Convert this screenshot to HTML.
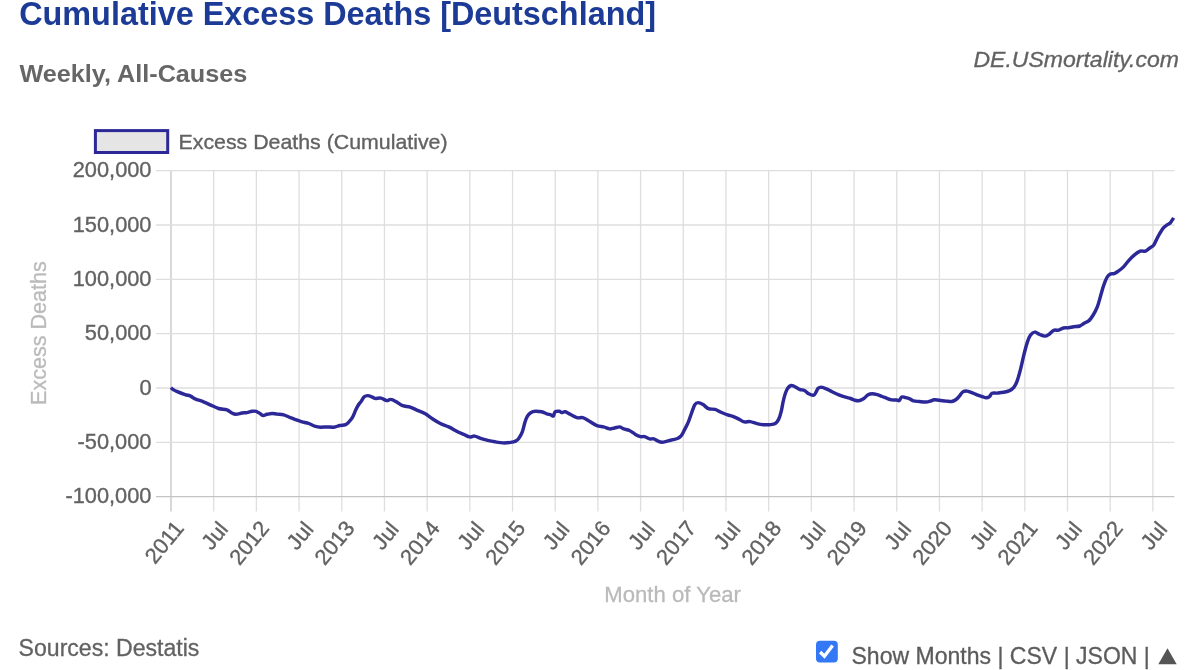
<!DOCTYPE html><html><head><meta charset="utf-8"><title>Cumulative Excess Deaths [Deutschland]</title>
<style>html,body{margin:0;padding:0;background:#fff;}body{width:1200px;height:670px;overflow:hidden;position:relative;font-family:"Liberation Sans",sans-serif;}
svg{position:absolute;left:0;top:0;will-change:transform;}svg text{font-family:"Liberation Sans",sans-serif;}
</style></head><body>
<svg width="1200" height="670" viewBox="0 0 1200 670">
<g stroke="#dedede" stroke-width="1.3" fill="none">
<line x1="171.00" y1="170.65" x2="171.00" y2="511.39" stroke="#c4c4c4"/>
<line x1="213.69" y1="170.65" x2="213.69" y2="511.39" stroke="#dedede"/>
<line x1="256.38" y1="170.65" x2="256.38" y2="511.39" stroke="#dedede"/>
<line x1="299.07" y1="170.65" x2="299.07" y2="511.39" stroke="#dedede"/>
<line x1="341.76" y1="170.65" x2="341.76" y2="511.39" stroke="#dedede"/>
<line x1="384.45" y1="170.65" x2="384.45" y2="511.39" stroke="#dedede"/>
<line x1="427.14" y1="170.65" x2="427.14" y2="511.39" stroke="#dedede"/>
<line x1="469.83" y1="170.65" x2="469.83" y2="511.39" stroke="#dedede"/>
<line x1="512.52" y1="170.65" x2="512.52" y2="511.39" stroke="#dedede"/>
<line x1="555.21" y1="170.65" x2="555.21" y2="511.39" stroke="#dedede"/>
<line x1="597.90" y1="170.65" x2="597.90" y2="511.39" stroke="#dedede"/>
<line x1="640.59" y1="170.65" x2="640.59" y2="511.39" stroke="#dedede"/>
<line x1="683.28" y1="170.65" x2="683.28" y2="511.39" stroke="#dedede"/>
<line x1="725.97" y1="170.65" x2="725.97" y2="511.39" stroke="#dedede"/>
<line x1="768.66" y1="170.65" x2="768.66" y2="511.39" stroke="#dedede"/>
<line x1="811.35" y1="170.65" x2="811.35" y2="511.39" stroke="#dedede"/>
<line x1="854.04" y1="170.65" x2="854.04" y2="511.39" stroke="#dedede"/>
<line x1="896.73" y1="170.65" x2="896.73" y2="511.39" stroke="#dedede"/>
<line x1="939.42" y1="170.65" x2="939.42" y2="511.39" stroke="#dedede"/>
<line x1="982.11" y1="170.65" x2="982.11" y2="511.39" stroke="#dedede"/>
<line x1="1024.80" y1="170.65" x2="1024.80" y2="511.39" stroke="#dedede"/>
<line x1="1067.49" y1="170.65" x2="1067.49" y2="511.39" stroke="#dedede"/>
<line x1="1110.18" y1="170.65" x2="1110.18" y2="511.39" stroke="#dedede"/>
<line x1="1152.87" y1="170.65" x2="1152.87" y2="511.39" stroke="#dedede"/>
<line x1="156.00" y1="170.65" x2="1174.40" y2="170.65" stroke="#dedede"/>
<line x1="156.00" y1="224.99" x2="1174.40" y2="224.99" stroke="#dedede"/>
<line x1="156.00" y1="279.33" x2="1174.40" y2="279.33" stroke="#dedede"/>
<line x1="156.00" y1="333.67" x2="1174.40" y2="333.67" stroke="#dedede"/>
<line x1="156.00" y1="388.01" x2="1174.40" y2="388.01" stroke="#dedede"/>
<line x1="156.00" y1="442.35" x2="1174.40" y2="442.35" stroke="#dedede"/>
<line x1="156.00" y1="496.69" x2="1174.40" y2="496.69" stroke="#c4c4c4"/>
</g>
<path d="M170.9,387.6 C171.3,388.0 172.5,389.2 173.5,389.8 C174.5,390.4 174.8,390.6 176.7,391.4 C178.6,392.2 182.9,393.9 185.1,394.6 C187.3,395.4 188.4,395.2 190.1,395.9 C191.8,396.6 192.9,397.9 195.1,398.9 C197.3,399.9 201.0,400.8 203.5,401.8 C206.0,402.8 207.7,403.7 210.2,404.8 C212.7,405.9 215.7,407.7 218.5,408.5 C221.3,409.3 224.7,409.1 226.9,409.8 C229.1,410.6 230.4,412.2 231.9,413.0 C233.4,413.8 234.4,414.3 236.1,414.3 C237.8,414.3 240.1,413.3 241.9,413.0 C243.7,412.7 245.3,412.9 247.0,412.6 C248.7,412.3 250.5,411.5 252.0,411.3 C253.5,411.1 254.8,410.9 256.2,411.3 C257.6,411.7 259.1,413.1 260.3,413.8 C261.5,414.5 262.1,415.4 263.2,415.5 C264.3,415.6 265.5,414.6 267.0,414.3 C268.5,414.0 270.3,413.5 272.0,413.5 C273.7,413.5 275.2,413.9 277.1,414.1 C279.1,414.3 281.5,414.2 283.7,414.8 C285.9,415.4 288.2,416.8 290.4,417.7 C292.6,418.6 295.2,419.5 297.1,420.2 C299.1,420.9 300.2,421.2 302.1,421.8 C304.1,422.4 306.6,422.7 308.8,423.5 C311.0,424.3 313.6,425.8 315.5,426.4 C317.4,427.0 318.6,427.1 320.5,427.2 C322.4,427.3 325.0,426.9 327.2,426.9 C329.4,426.9 331.8,427.4 333.9,427.2 C336.0,427.0 337.9,425.9 339.8,425.5 C341.8,425.1 344.1,425.3 345.6,424.7 C347.1,424.1 347.9,423.0 349.0,421.8 C350.1,420.6 351.2,419.6 352.3,417.7 C353.4,415.8 354.7,412.2 355.7,410.1 C356.7,408.0 357.6,406.2 358.5,404.8 C359.4,403.4 359.9,403.1 360.9,401.8 C361.8,400.5 363.1,397.8 364.2,396.8 C365.3,395.8 366.3,395.6 367.6,395.6 C368.9,395.6 370.6,396.3 371.8,396.8 C373.1,397.3 373.6,398.2 375.1,398.4 C376.6,398.6 379.1,397.7 381.0,398.1 C382.9,398.5 385.1,400.4 386.8,400.6 C388.5,400.8 389.3,399.1 391.0,399.4 C392.7,399.6 394.9,401.1 396.9,402.1 C398.8,403.1 400.5,404.8 402.7,405.6 C404.9,406.4 407.8,406.4 410.2,407.1 C412.6,407.9 414.4,409.0 416.9,410.1 C419.4,411.2 422.8,412.4 425.3,413.8 C427.8,415.2 429.5,416.9 432.0,418.5 C434.5,420.1 437.5,422.1 440.3,423.5 C443.1,424.9 445.9,425.6 448.7,426.9 C451.5,428.2 454.6,430.2 457.1,431.5 C459.6,432.8 461.6,433.5 463.7,434.4 C465.8,435.3 467.8,436.6 469.6,436.9 C471.4,437.2 472.7,435.8 474.6,436.1 C476.6,436.4 478.9,437.9 481.3,438.6 C483.7,439.4 486.4,440.1 488.8,440.6 C491.2,441.2 493.1,441.5 495.5,441.9 C497.9,442.3 500.5,442.8 503.0,442.9 C505.5,443.0 508.5,442.7 510.6,442.4 C512.7,442.1 514.2,441.8 515.6,441.1 C517.0,440.4 517.8,439.7 518.9,438.2 C520.0,436.7 521.3,434.5 522.3,431.9 C523.3,429.3 524.0,425.3 524.8,422.7 C525.6,420.1 526.3,418.1 527.3,416.4 C528.3,414.7 529.3,413.6 530.7,412.7 C532.1,411.8 533.7,411.3 535.5,411.2 C537.3,411.1 539.8,411.4 541.7,411.8 C543.6,412.2 545.3,413.3 546.8,413.8 C548.3,414.3 549.8,414.4 550.9,414.8 C552.0,415.2 552.7,416.5 553.4,416.0 C554.1,415.5 554.1,412.6 555.1,411.8 C556.1,411.0 558.2,411.2 559.3,411.3 C560.4,411.4 560.8,412.5 561.8,412.6 C562.8,412.7 563.8,411.5 565.2,411.8 C566.6,412.1 568.2,413.3 570.2,414.3 C572.2,415.3 574.8,417.1 576.9,417.7 C579.0,418.3 580.8,417.2 582.7,417.7 C584.7,418.2 586.2,419.4 588.6,420.7 C591.0,422.0 594.4,424.7 596.9,425.7 C599.4,426.7 601.5,426.4 603.6,426.9 C605.7,427.4 607.7,428.7 609.5,428.9 C611.3,429.1 612.8,428.3 614.5,428.0 C616.2,427.7 618.0,426.8 619.5,426.9 C621.0,427.0 622.0,428.3 623.7,428.9 C625.4,429.5 627.5,429.6 629.5,430.5 C631.5,431.4 633.6,433.4 635.4,434.4 C637.2,435.4 638.9,436.2 640.4,436.6 C641.9,437.0 643.1,436.2 644.6,436.6 C646.1,437.0 648.1,438.5 649.6,438.9 C651.1,439.3 652.4,438.5 653.8,438.9 C655.2,439.3 656.6,440.6 658.0,441.1 C659.4,441.7 660.6,442.2 662.1,442.2 C663.6,442.2 665.4,441.5 667.2,441.1 C669.0,440.7 671.2,440.2 673.0,439.7 C674.8,439.2 676.6,438.9 678.0,438.2 C679.4,437.5 680.3,437.1 681.4,435.6 C682.5,434.1 683.6,431.5 684.7,429.4 C685.8,427.2 687.0,425.3 688.1,422.7 C689.2,420.1 690.3,416.5 691.4,413.5 C692.5,410.5 693.6,406.6 694.7,404.8 C695.8,403.0 696.7,402.6 698.1,402.6 C699.5,402.6 701.4,403.6 703.1,404.6 C704.8,405.6 706.4,407.9 708.4,408.7 C710.4,409.5 713.0,408.8 715.1,409.4 C717.2,410.0 718.8,411.3 720.9,412.2 C723.0,413.1 725.5,414.2 727.6,414.9 C729.7,415.6 731.5,415.9 733.4,416.6 C735.3,417.4 737.5,418.5 739.3,419.4 C741.1,420.3 742.5,421.5 744.3,421.9 C746.1,422.3 748.1,421.3 750.2,421.6 C752.3,421.9 754.7,423.1 756.9,423.6 C759.1,424.1 761.4,424.5 763.5,424.7 C765.6,424.9 767.4,424.9 769.4,424.7 C771.4,424.5 773.8,424.5 775.3,423.6 C776.8,422.7 777.6,421.3 778.6,419.4 C779.6,417.4 780.4,414.8 781.1,411.9 C781.9,409.0 782.4,404.9 783.1,401.8 C783.8,398.7 784.5,395.8 785.3,393.5 C786.1,391.2 786.8,389.4 787.8,388.1 C788.8,386.8 790.0,385.8 791.1,385.5 C792.2,385.2 793.1,385.9 794.5,386.5 C795.9,387.1 797.8,388.6 799.5,389.3 C801.2,390.0 803.0,389.8 804.5,390.5 C806.0,391.2 807.2,393.0 808.7,393.8 C810.2,394.6 812.5,395.5 813.7,395.2 C815.0,394.9 815.5,392.9 816.2,391.8 C816.9,390.7 817.1,389.3 817.9,388.5 C818.7,387.7 819.8,387.1 821.2,387.1 C822.6,387.2 824.5,388.0 826.3,388.8 C828.1,389.6 830.0,390.8 832.1,391.8 C834.2,392.8 836.6,393.9 838.8,394.8 C841.0,395.7 843.5,396.6 845.5,397.2 C847.5,397.8 849.0,398.0 850.5,398.5 C852.0,399.0 853.3,399.8 854.7,400.2 C856.1,400.6 857.4,401.0 858.9,400.7 C860.4,400.4 862.4,399.5 863.9,398.5 C865.4,397.5 866.7,395.6 868.1,394.8 C869.5,394.0 870.7,393.8 872.2,393.8 C873.7,393.8 875.6,394.2 877.3,394.6 C879.0,395.1 880.7,395.9 882.3,396.5 C883.9,397.1 885.4,397.8 887.0,398.4 C888.6,399.0 890.1,399.6 891.7,399.9 C893.3,400.2 895.5,399.9 896.7,400.0 C898.0,400.1 898.4,401.1 899.2,400.6 C900.0,400.1 900.7,397.5 901.7,397.0 C902.7,396.5 903.8,397.2 905.1,397.5 C906.4,397.8 907.9,398.1 909.3,398.6 C910.7,399.2 911.7,400.3 913.4,400.8 C915.1,401.3 917.2,401.3 919.3,401.5 C921.4,401.7 924.2,402.1 926.0,402.0 C927.8,401.9 928.8,401.5 930.2,401.1 C931.6,400.7 932.8,399.9 934.3,399.8 C935.8,399.7 937.4,400.1 939.4,400.3 C941.4,400.5 944.0,400.9 946.1,401.1 C948.2,401.3 950.2,401.8 951.9,401.5 C953.6,401.2 954.9,400.4 956.1,399.5 C957.4,398.6 958.3,397.4 959.4,396.1 C960.5,394.8 961.5,392.7 962.8,391.9 C964.1,391.1 965.6,391.0 967.0,391.1 C968.4,391.2 969.4,391.8 971.1,392.4 C972.8,393.0 975.2,394.1 977.0,394.8 C978.8,395.5 980.5,396.0 982.0,396.5 C983.5,397.0 985.0,397.8 986.2,397.8 C987.5,397.8 988.5,397.4 989.5,396.6 C990.5,395.9 990.7,393.9 992.0,393.3 C993.3,392.7 995.1,393.3 997.1,393.1 C999.1,392.9 1001.6,392.7 1003.7,392.3 C1005.8,391.9 1007.9,391.4 1009.6,390.6 C1011.3,389.8 1012.5,389.0 1013.8,387.4 C1015.0,385.8 1016.0,384.1 1017.1,381.1 C1018.2,378.1 1019.4,373.7 1020.5,369.4 C1021.6,365.1 1022.7,359.7 1023.8,355.2 C1024.9,350.7 1026.1,346.0 1027.2,342.6 C1028.3,339.2 1029.2,336.9 1030.5,335.1 C1031.8,333.4 1033.2,332.2 1034.7,332.1 C1036.2,332.0 1038.1,333.8 1039.8,334.5 C1041.5,335.2 1043.4,336.2 1044.9,336.1 C1046.5,336.1 1047.6,335.2 1049.1,334.2 C1050.6,333.2 1052.1,331.0 1053.7,330.3 C1055.3,329.6 1057.2,330.6 1058.8,330.2 C1060.4,329.8 1061.8,328.4 1063.4,328.0 C1065.0,327.6 1066.8,328.0 1068.5,327.8 C1070.2,327.6 1071.7,327.1 1073.6,326.8 C1075.5,326.5 1078.1,326.6 1079.8,326.0 C1081.5,325.4 1082.3,324.3 1083.8,323.4 C1085.3,322.5 1087.4,322.0 1089.0,320.6 C1090.6,319.2 1091.8,317.3 1093.2,315.0 C1094.6,312.7 1096.2,309.7 1097.4,306.6 C1098.6,303.5 1099.5,299.7 1100.5,296.2 C1101.5,292.7 1102.5,288.8 1103.6,285.7 C1104.6,282.6 1105.8,279.7 1106.8,277.8 C1107.8,275.9 1108.7,274.9 1109.9,274.2 C1111.1,273.5 1112.7,274.1 1114.1,273.6 C1115.5,273.1 1116.7,272.2 1118.3,271.1 C1119.9,270.0 1121.8,268.6 1123.5,266.9 C1125.2,265.1 1127.0,262.5 1128.7,260.6 C1130.4,258.7 1132.0,257.0 1133.9,255.4 C1135.8,253.8 1138.3,251.9 1140.2,251.2 C1142.1,250.5 1143.8,251.7 1145.4,251.2 C1147.0,250.7 1148.2,249.1 1149.6,248.1 C1151.0,247.1 1152.4,246.8 1153.8,244.9 C1155.2,243.0 1156.4,239.4 1158.0,236.6 C1159.6,233.8 1161.6,230.2 1163.2,228.2 C1164.8,226.2 1166.2,225.6 1167.4,224.7 C1168.6,223.8 1169.5,223.8 1170.5,222.6 C1171.5,221.4 1173.2,218.6 1173.7,217.8" fill="none" stroke="#2c2897" stroke-width="3.45" stroke-linejoin="round" stroke-linecap="butt"/>
<g fill="#626262" stroke="#626262" stroke-width="0.35">
<text transform="translate(151.50,177.40)" font-size="21.8" text-anchor="end" >200,000</text>
<text transform="translate(151.50,231.74)" font-size="21.8" text-anchor="end" >150,000</text>
<text transform="translate(151.50,286.08)" font-size="21.8" text-anchor="end" >100,000</text>
<text transform="translate(151.50,340.42)" font-size="21.8" text-anchor="end" >50,000</text>
<text transform="translate(151.50,394.76)" font-size="21.8" text-anchor="end" >0</text>
<text transform="translate(151.50,449.10)" font-size="21.8" text-anchor="end" >-50,000</text>
<text transform="translate(151.50,503.44)" font-size="21.8" text-anchor="end" >-100,000</text>
<text transform="translate(179.00,523.89) rotate(-50.5)" font-size="21.8" text-anchor="end" dy="0.35em">2011</text>
<text transform="translate(223.29,524.79) rotate(-50.5)" font-size="21.8" text-anchor="end" dy="0.35em">Jul</text>
<text transform="translate(264.38,523.89) rotate(-50.5)" font-size="21.8" text-anchor="end" dy="0.35em">2012</text>
<text transform="translate(308.67,524.79) rotate(-50.5)" font-size="21.8" text-anchor="end" dy="0.35em">Jul</text>
<text transform="translate(349.76,523.89) rotate(-50.5)" font-size="21.8" text-anchor="end" dy="0.35em">2013</text>
<text transform="translate(394.05,524.79) rotate(-50.5)" font-size="21.8" text-anchor="end" dy="0.35em">Jul</text>
<text transform="translate(435.14,523.89) rotate(-50.5)" font-size="21.8" text-anchor="end" dy="0.35em">2014</text>
<text transform="translate(479.43,524.79) rotate(-50.5)" font-size="21.8" text-anchor="end" dy="0.35em">Jul</text>
<text transform="translate(520.52,523.89) rotate(-50.5)" font-size="21.8" text-anchor="end" dy="0.35em">2015</text>
<text transform="translate(564.81,524.79) rotate(-50.5)" font-size="21.8" text-anchor="end" dy="0.35em">Jul</text>
<text transform="translate(605.90,523.89) rotate(-50.5)" font-size="21.8" text-anchor="end" dy="0.35em">2016</text>
<text transform="translate(650.19,524.79) rotate(-50.5)" font-size="21.8" text-anchor="end" dy="0.35em">Jul</text>
<text transform="translate(691.28,523.89) rotate(-50.5)" font-size="21.8" text-anchor="end" dy="0.35em">2017</text>
<text transform="translate(735.57,524.79) rotate(-50.5)" font-size="21.8" text-anchor="end" dy="0.35em">Jul</text>
<text transform="translate(776.66,523.89) rotate(-50.5)" font-size="21.8" text-anchor="end" dy="0.35em">2018</text>
<text transform="translate(820.95,524.79) rotate(-50.5)" font-size="21.8" text-anchor="end" dy="0.35em">Jul</text>
<text transform="translate(862.04,523.89) rotate(-50.5)" font-size="21.8" text-anchor="end" dy="0.35em">2019</text>
<text transform="translate(906.33,524.79) rotate(-50.5)" font-size="21.8" text-anchor="end" dy="0.35em">Jul</text>
<text transform="translate(947.42,523.89) rotate(-50.5)" font-size="21.8" text-anchor="end" dy="0.35em">2020</text>
<text transform="translate(991.71,524.79) rotate(-50.5)" font-size="21.8" text-anchor="end" dy="0.35em">Jul</text>
<text transform="translate(1032.80,523.89) rotate(-50.5)" font-size="21.8" text-anchor="end" dy="0.35em">2021</text>
<text transform="translate(1077.09,524.79) rotate(-50.5)" font-size="21.8" text-anchor="end" dy="0.35em">Jul</text>
<text transform="translate(1118.18,523.89) rotate(-50.5)" font-size="21.8" text-anchor="end" dy="0.35em">2022</text>
<text transform="translate(1162.47,524.79) rotate(-50.5)" font-size="21.8" text-anchor="end" dy="0.35em">Jul</text>
</g>
<rect x="95.4" y="130.6" width="72.3" height="21.9" fill="#e5e5e5" stroke="#2c2897" stroke-width="3"/>
<text transform="translate(178.50,148.70) scale(1.0164,1)" font-size="21.0" text-anchor="start" fill="#626262" stroke="#626262" stroke-width="0.35">Excess Deaths (Cumulative)</text>
<text transform="translate(45.90,333.10) rotate(-90) scale(0.9850,1)" font-size="21.9" text-anchor="middle" fill="#bababa" stroke="#bababa" stroke-width="0.3">Excess Deaths</text>
<text transform="translate(672.60,602.30) scale(1.0350,1)" font-size="21.4" text-anchor="middle" fill="#bababa" stroke="#bababa" stroke-width="0.3">Month of Year</text>
<text transform="translate(19.20,25.30) scale(0.9995,1)" font-size="32.4" text-anchor="start" font-weight="bold" fill="#1c3b96">Cumulative Excess Deaths [Deutschland]</text>
<text transform="translate(19.40,81.70) scale(1.0465,1)" font-size="24.1" text-anchor="start" font-weight="bold" fill="#666">Weekly, All-Causes</text>
<text transform="translate(1179.00,67.00) scale(1.0515,1)" font-size="21.9" text-anchor="end" font-style="italic" fill="#626262" stroke="#626262" stroke-width="0.3">DE.USmortality.com</text>
<text transform="translate(18.60,656.00) scale(0.9950,1)" font-size="23.2" text-anchor="start" fill="#626262" stroke="#626262" stroke-width="0.3">Sources: Destatis</text>
<text transform="translate(851.50,664.00) scale(1.0020,1)" font-size="23.0" text-anchor="start" fill="#5c5c5c" stroke="#5c5c5c" stroke-width="0.3">Show Months | CSV | JSON |</text>
<path d="M1158.3,664.3 L1176.7,664.3 L1167.5,648.3 Z" fill="#555"/>
<rect x="816" y="640.8" width="21.8" height="21.7" rx="4" fill="#3478f6"/>
<path d="M820.1,652.0 L824.4,656.2 L832.6,645.4" fill="none" stroke="#fff" stroke-width="3.3" stroke-linecap="butt" stroke-linejoin="miter"/>
</svg></body></html>
